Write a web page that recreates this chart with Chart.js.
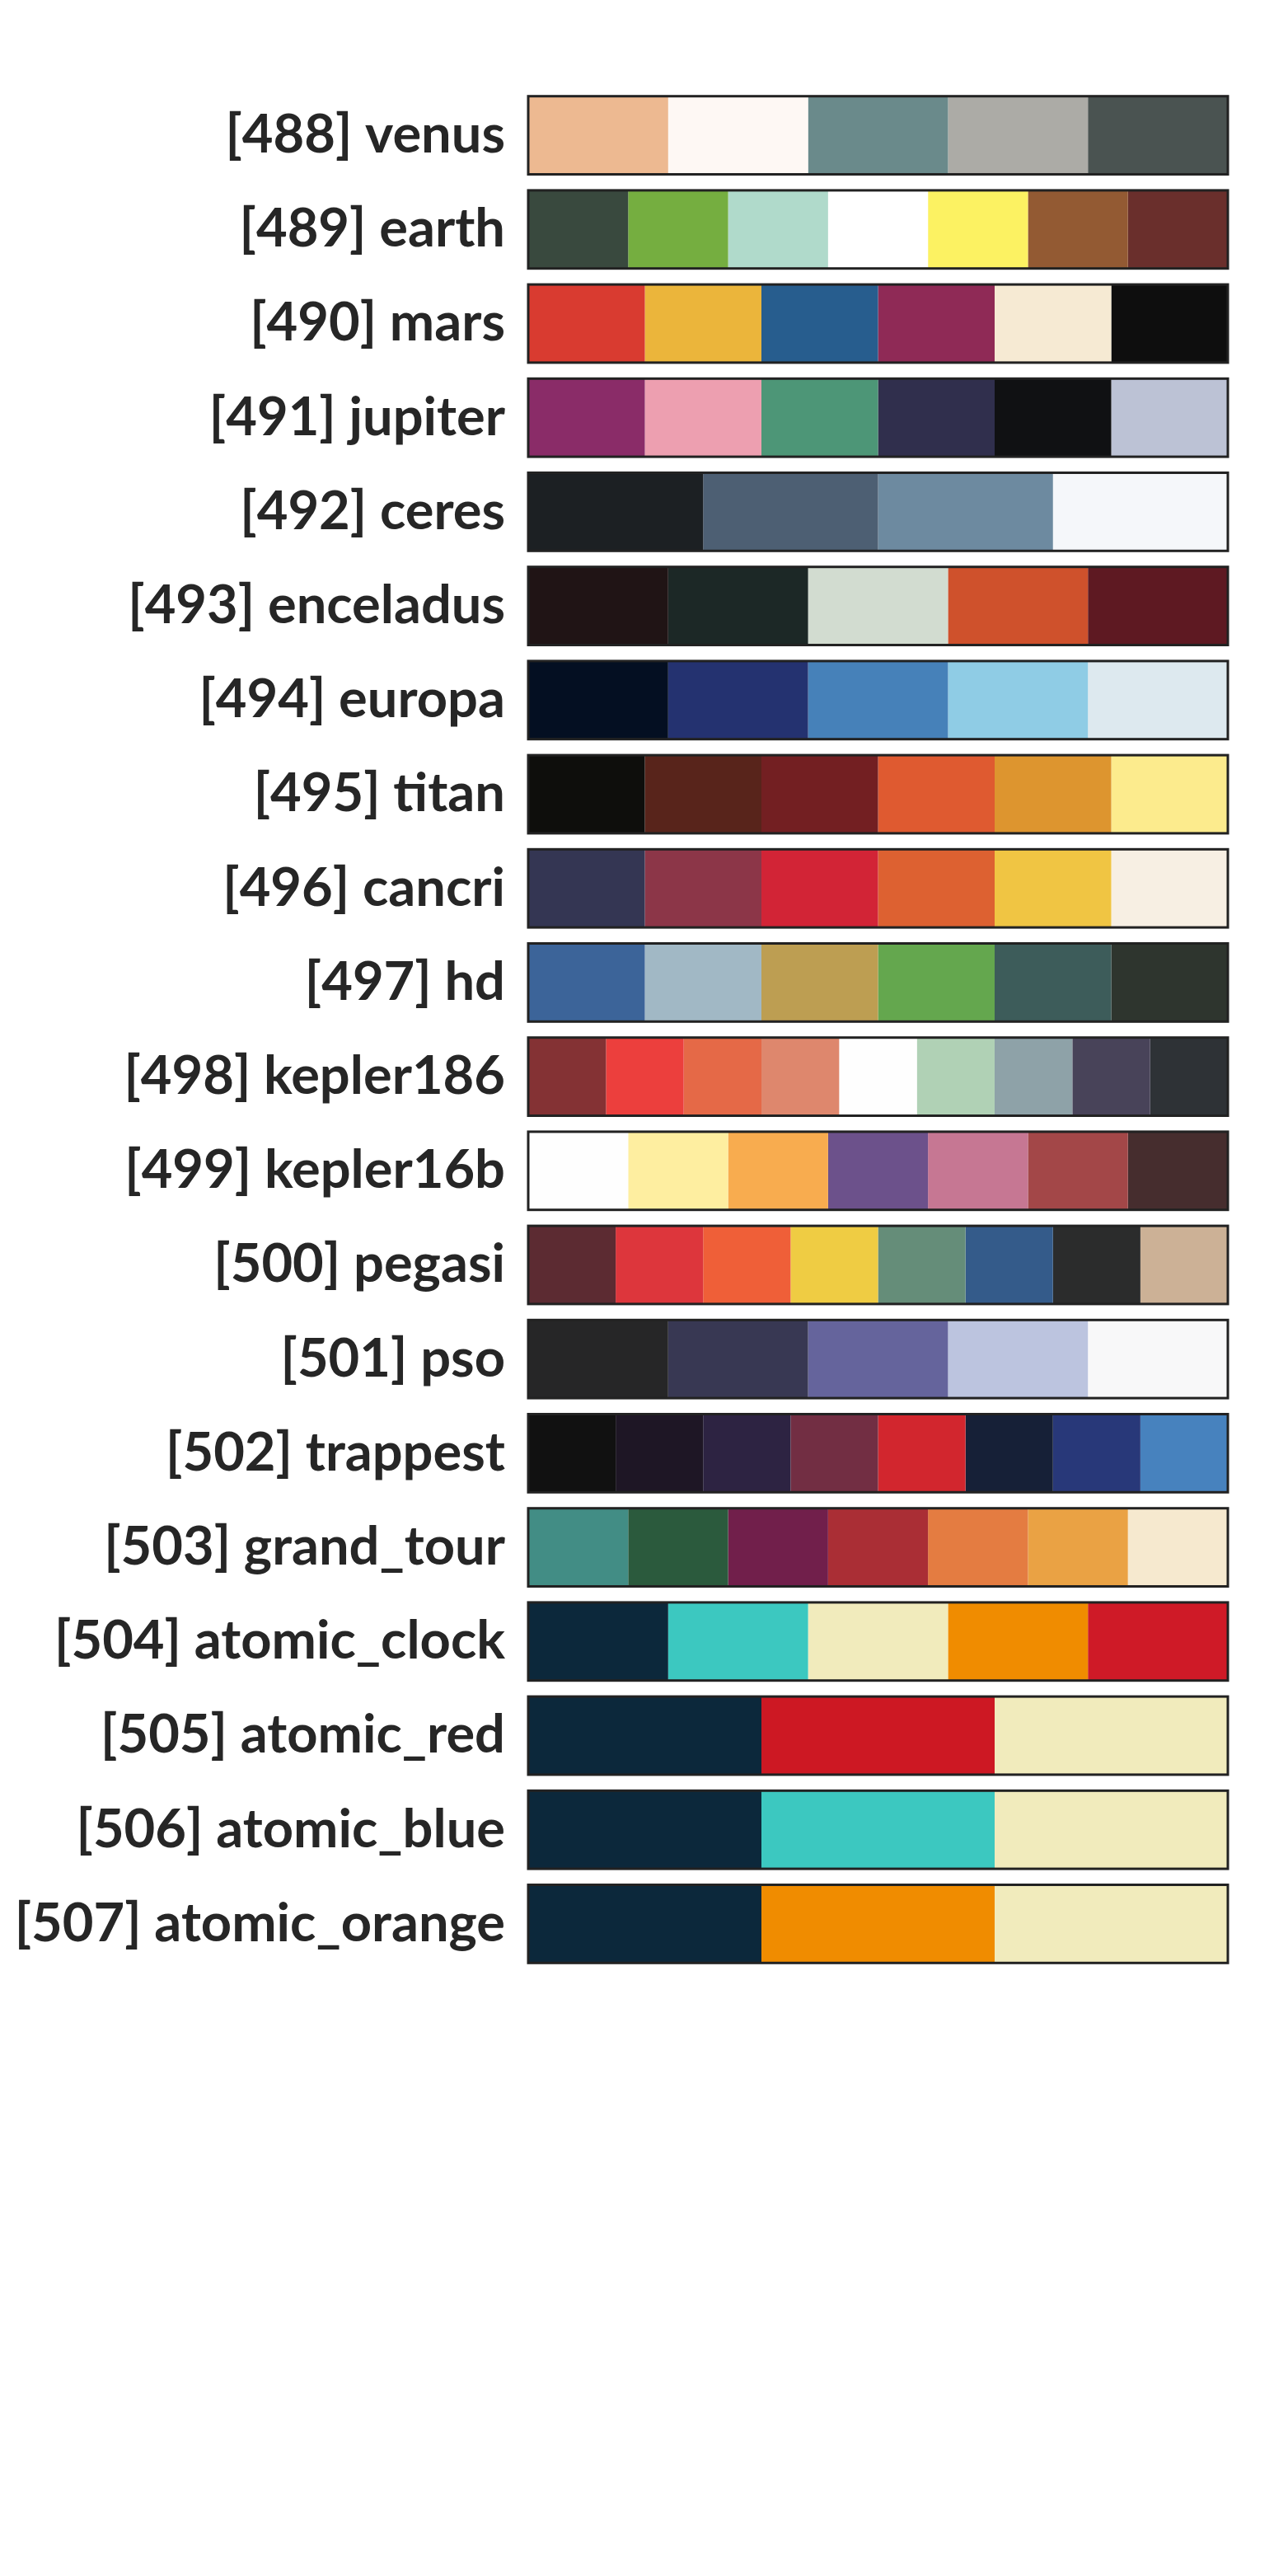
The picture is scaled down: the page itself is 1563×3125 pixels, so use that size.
<!DOCTYPE html>
<html>
<head>
<meta charset="utf-8">
<script src="https://cdn.jsdelivr.net/npm/chart.js@4"></script>
<style>
  html, body { margin: 0; padding: 0; background: #fff; }
  canvas { display: block; }
</style>
</head>
<body>
<canvas id="c" width="1563" height="3125"></canvas>
<script>
const paletteNames = [
  '[488] venus', '[489] earth', '[490] mars', '[491] jupiter', '[492] ceres',
  '[493] enceladus', '[494] europa', '[495] titan', '[496] cancri', '[497] hd',
  '[498] kepler186', '[499] kepler16b', '[500] pegasi', '[501] pso', '[502] trappest',
  '[503] grand_tour', '[504] atomic_clock', '[505] atomic_red', '[506] atomic_blue', '[507] atomic_orange'
];

const paletteColors = [
  ['#EDB991', '#FEF8F4', '#6A8A8B', '#ACABA6', '#4A5351'],
  ['#39493E', '#75AE40', '#B0DACB', '#FFFFFF', '#FCF262', '#935A33', '#6A2F2C'],
  ['#D93B30', '#EBB53B', '#275D8E', '#8F2A56', '#F6EAD3', '#0E0E0E'],
  ['#8A2C68', '#ED9FB0', '#4D9677', '#302F4D', '#101113', '#BCC2D5'],
  ['#1C2023', '#4D5F73', '#6D8AA0', '#F5F7FA'],
  ['#201415', '#1C2826', '#D2DCD0', '#CF512C', '#5E1922'],
  ['#040F22', '#243270', '#4681B9', '#8FCCE5', '#DDE9EF'],
  ['#0E0E0C', '#58241B', '#731F22', '#DF5A30', '#DD952F', '#FCEB8D'],
  ['#343653', '#8C3648', '#D22436', '#DD6131', '#F0C543', '#F7EFE3'],
  ['#3C6499', '#A1B8C5', '#BD9E52', '#64A74E', '#3D5C5A', '#2E352E'],
  ['#843234', '#EC3F3D', '#E56947', '#DE876D', '#FEFEFE', '#B0D1B5', '#8EA2A8', '#484359', '#2E3236'],
  ['#FEFEFE', '#FEEEA0', '#F8AC4F', '#6C518B', '#C67793', '#A34748', '#462D2E'],
  ['#5C2B32', '#DD363C', '#EF5F38', '#EFCC43', '#658D79', '#345B8A', '#2B2C2C', '#CCB196'],
  ['#262627', '#383853', '#65649C', '#BCC4DF', '#F8F8F9'],
  ['#111111', '#1E1625', '#2D2342', '#722E43', '#D2262E', '#162037', '#283879', '#4782BE'],
  ['#428D85', '#2B5A3D', '#711F4B', '#AA2E35', '#E47C41', '#EAA244', '#F6E9CF'],
  ['#0C283B', '#3CC8C0', '#F1EBBC', '#F08C00', '#CF1A27'],
  ['#0C283B', '#CD1823', '#F1EBBC'],
  ['#0C283B', '#3CC8C0', '#F1EBBC'],
  ['#0C283B', '#F08C00', '#F1EBBC']
];

// every swatch is one equal share of its row
const maxSegments = Math.max(...paletteColors.map(p => p.length));
const datasets = [];
for (let s = 0; s < maxSegments; s++) {
  datasets.push({
    data: paletteColors.map(p => (s < p.length ? 1 / p.length : 0)),
    backgroundColor: paletteColors.map(p => p[s] || '#fff'),
    borderWidth: 0,
    barPercentage: 0.83,
    categoryPercentage: 1
  });
}

// outline around each whole palette row
const rowBorder = {
  id: 'rowBorder',
  afterDatasetsDraw(chart) {
    const ctx = chart.ctx;
    const xs = chart.scales.x;
    const bars = chart.getDatasetMeta(0).data;
    const left = xs.getPixelForValue(0);
    const right = xs.getPixelForValue(1);
    ctx.save();
    ctx.strokeStyle = '#222';
    ctx.lineWidth = 3;
    bars.forEach(b => {
      ctx.strokeRect(left, b.y - b.height / 2, right - left, b.height);
    });
    ctx.restore();
  }
};

new Chart(document.getElementById('c'), {
  type: 'bar',
  data: { labels: paletteNames, datasets },
  options: {
    indexAxis: 'y',
    responsive: false,
    animation: false,
    layout: { padding: { top: 107, bottom: 734, right: 73, left: 0 } },
    plugins: { legend: { display: false }, tooltip: { enabled: false } },
    scales: {
      x: { stacked: true, min: 0, max: 1, display: false },
      y: {
        stacked: true,
        grid: { display: false },
        border: { display: false },
        afterFit(scale) { scale.width = 641; },
        ticks: {
          color: '#262626',
          padding: 20,
          font: { family: 'Lato', weight: 'bold', size: 65 }
        }
      }
    }
  },
  plugins: [rowBorder]
});
</script>
</body>
</html>
